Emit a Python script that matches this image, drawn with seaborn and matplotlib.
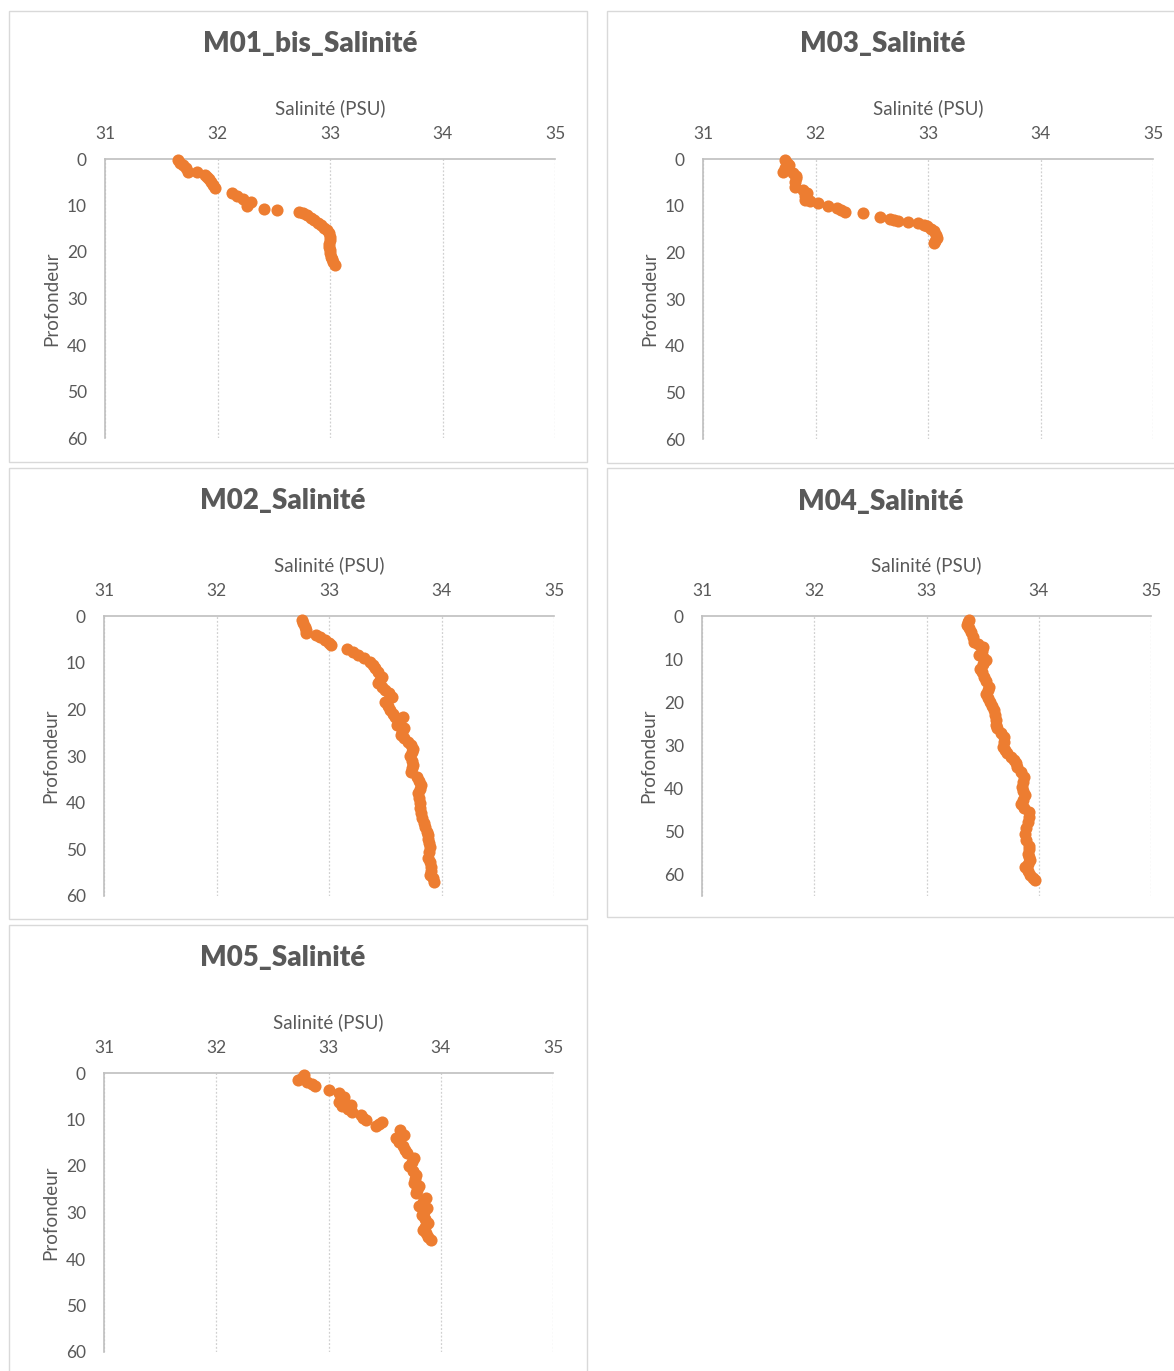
import matplotlib
matplotlib.use("Agg")
import matplotlib.pyplot as plt
from matplotlib.patches import Rectangle
import pandas as pd
import seaborn as sns

# ---- Salinity profiles (depth in m, salinity in PSU) ----
m01_depth = [0.2, 0.8, 1.3, 2.0, 2.7, 2.9, 3.4, 3.8, 4.4, 4.9, 5.6, 6.3, 7.4, 8.0, 8.5,
             9.2, 9.6, 10.1, 10.8, 11.0, 11.3, 11.6, 12.0, 12.6, 13.1, 13.7, 14.2, 14.8,
             15.3, 16.0, 16.7, 17.5, 18.2, 18.9, 19.6, 20.3, 21.0, 21.4, 22.1, 22.8]
m01_sal = [31.65, 31.67, 31.69, 31.72, 31.74, 31.82, 31.89, 31.91, 31.92, 31.94, 31.96,
           31.98, 32.13, 32.17, 32.23, 32.30, 32.27, 32.26, 32.41, 32.53, 32.72, 32.76,
           32.80, 32.83, 32.86, 32.89, 32.92, 32.95, 32.97, 32.99, 33.00, 33.00, 32.99,
           32.99, 33.00, 33.00, 33.01, 33.02, 33.03, 33.04]

m03_depth = [0.2, 0.8, 1.3, 2.0, 2.7, 3.1, 3.6, 4.1, 5.0, 5.9, 6.6, 7.3, 8.0, 8.7, 9.1,
             9.5, 10.1, 10.6, 11.0, 11.3, 11.6, 12.4, 12.8, 13.0, 13.2, 13.4, 13.8, 14.1,
             14.4, 15.0, 15.5, 16.2, 17.0, 17.5, 18.0]
m03_sal = [31.73, 31.75, 31.76, 31.73, 31.71, 31.80, 31.83, 31.83, 31.82, 31.82, 31.89,
           31.92, 31.91, 31.91, 31.95, 32.02, 32.11, 32.19, 32.23, 32.26, 32.42, 32.57,
           32.66, 32.70, 32.73, 32.82, 32.91, 32.96, 32.99, 33.03, 33.05, 33.07, 33.08,
           33.06, 33.05]

m02_depth = [0.9, 1.6, 2.3, 3.0, 3.7, 4.1, 4.6, 5.1, 5.7, 6.2, 7.1, 7.8, 8.4, 9.1, 9.8,
             10.5, 11.2, 12.1, 13.0, 13.7, 14.4, 15.2, 15.9, 16.6, 17.3, 18.4, 19.2, 20.1,
             20.9, 21.6, 21.6, 22.5, 23.4, 24.1, 24.8, 25.5, 26.2, 26.9, 27.7, 28.4, 29.2,
             30.1, 31.0, 31.9, 32.6, 33.4, 34.4, 35.3, 36.2, 37.1, 38.0, 39.0, 40.1, 41.2,
             42.3, 43.3, 44.4, 45.3, 46.2, 47.0, 47.8, 48.6, 49.4, 50.6, 51.9, 52.8, 53.7,
             54.6, 55.5, 56.2, 56.9]
m02_sal = [32.76, 32.77, 32.79, 32.80, 32.80, 32.88, 32.92, 32.96, 33.00, 33.02, 33.16,
           33.21, 33.26, 33.31, 33.36, 33.39, 33.41, 33.44, 33.47, 33.45, 33.44, 33.47,
           33.50, 33.53, 33.56, 33.50, 33.52, 33.54, 33.57, 33.59, 33.66, 33.62, 33.60,
           33.67, 33.65, 33.64, 33.67, 33.70, 33.73, 33.75, 33.74, 33.72, 33.74, 33.75,
           33.74, 33.73, 33.78, 33.80, 33.82, 33.81, 33.79, 33.80, 33.81, 33.81, 33.82,
           33.83, 33.84, 33.85, 33.87, 33.88, 33.88, 33.89, 33.90, 33.89, 33.88, 33.90,
           33.91, 33.91, 33.90, 33.92, 33.93]

m04_depth = [0.9, 1.5, 2.1, 2.9, 3.6, 4.8, 6.0, 6.5, 7.1, 8.1, 9.1, 9.6, 10.2, 11.2, 12.2,
             13.1, 14.1, 15.2, 16.4, 17.2, 18.0, 19.0, 19.9, 20.9, 21.9, 23.0, 24.2, 25.2,
             26.1, 27.1, 28.1, 29.2, 30.4, 31.2, 31.9, 32.7, 33.5, 34.2, 35.0, 36.2, 37.4,
             38.5, 39.7, 40.6, 41.6, 42.6, 43.6, 44.5, 45.5, 46.6, 47.8, 49.1, 50.5, 51.9,
             53.3, 54.2, 55.2, 56.0, 56.7, 57.5, 58.3, 59.3, 60.2, 60.8, 61.4]
m04_sal = [33.38, 33.37, 33.36, 33.38, 33.40, 33.41, 33.42, 33.46, 33.50, 33.49, 33.47,
           33.50, 33.53, 33.50, 33.48, 33.49, 33.51, 33.53, 33.56, 33.55, 33.53, 33.55,
           33.57, 33.58, 33.60, 33.61, 33.62, 33.62, 33.63, 33.66, 33.69, 33.69, 33.68,
           33.70, 33.72, 33.75, 33.78, 33.80, 33.81, 33.84, 33.87, 33.86, 33.85, 33.86,
           33.88, 33.86, 33.84, 33.87, 33.91, 33.91, 33.90, 33.89, 33.88, 33.89, 33.91,
           33.91, 33.90, 33.91, 33.92, 33.90, 33.88, 33.90, 33.92, 33.95, 33.97]

m05_depth = [0.4, 1.0, 1.5, 1.9, 2.4, 2.9, 3.7, 4.4, 5.1, 5.6, 6.2, 6.9, 7.2, 7.8, 8.3,
             9.0, 9.6, 10.1, 10.5, 11.0, 11.5, 12.3, 13.3, 14.0, 14.9, 15.8, 16.5, 17.3,
             18.3, 19.2, 20.1, 21.0, 21.9, 22.8, 23.7, 24.4, 25.2, 25.9, 26.9, 27.8, 28.7,
             29.1, 29.8, 30.5, 31.4, 32.3, 33.1, 33.8, 34.5, 35.2, 35.9]
m05_sal = [32.78, 32.76, 32.73, 32.81, 32.85, 32.88, 33.00, 33.09, 33.14, 33.11, 33.09,
           33.20, 33.12, 33.17, 33.21, 33.29, 33.31, 33.33, 33.48, 33.45, 33.42, 33.64,
           33.67, 33.60, 33.63, 33.66, 33.68, 33.70, 33.76, 33.74, 33.72, 33.75, 33.78,
           33.77, 33.76, 33.81, 33.79, 33.78, 33.87, 33.84, 33.81, 33.88, 33.85, 33.83,
           33.86, 33.89, 33.86, 33.84, 33.87, 33.89, 33.91]

titles = ["M01_bis_Salinité", "M03_Salinité", "M02_Salinité", "M04_Salinité", "M05_Salinité"]
x_label = "Salinité (PSU)"
y_label = "Profondeur"
x_ticks = [31, 32, 33, 34, 35]
y_ticks = [0, 10, 20, 30, 40, 50, 60]
depth_max = [60, 60, 60, 65, 60]

profiles = [(m01_depth, m01_sal), (m03_depth, m03_sal), (m02_depth, m02_sal),
            (m04_depth, m04_sal), (m05_depth, m05_sal)]

# ---- Styling ----
sns.set_theme(style="white")
plt.rcParams["font.family"] = ["Lato", "DejaVu Sans"]

ORANGE = "#ED7D31"
TEXT = "#595959"
GRID = "#D0D0D0"
AXIS = "#BFBFBF"

W, H = 1174, 1371
fig = plt.figure(figsize=(W / 100, H / 100), dpi=100)
fig.patch.set_facecolor("white")


def frac(x0, y0, x1, y1):
    return [x0 / W, 1 - y1 / H, (x1 - x0) / W, (y1 - y0) / H]


# chart frame, plot area, title centre (pixels)
layout = [
    ((9, 11, 587, 462), (105, 159, 555, 438), (310, 44)),
    ((607, 11, 1190, 463), (703, 159, 1153, 439), (883, 44)),
    ((9, 468, 587, 919), (104, 616, 554, 896), (283, 501)),
    ((607, 468, 1190, 917), (702, 616, 1151, 896), (881, 502)),
    ((9, 925, 587, 1390), (104, 1073, 553, 1352), (283, 958)),
]

for (frame, area, tpos), title, (depth, sal), dmax in zip(layout, titles, profiles, depth_max):
    fx0, fy0, fx1, fy1 = frame
    fig.patches.append(Rectangle((fx0 / W, 1 - fy1 / H), (fx1 - fx0) / W, (fy1 - fy0) / H,
                                 transform=fig.transFigure, fill=False,
                                 edgecolor="#D9D9D9", linewidth=1.0, zorder=0))
    fig.text(tpos[0] / W, 1 - tpos[1] / H, title, ha="center", va="center",
             fontsize=20, fontweight="heavy", color=TEXT)

    ax = fig.add_axes(frac(*area))
    df = pd.DataFrame({"Salinité": sal, "Profondeur": depth})
    sns.scatterplot(data=df, x="Salinité", y="Profondeur", ax=ax, color=ORANGE,
                    s=76, linewidth=0, alpha=1, zorder=3, clip_on=False)

    ax.set_xlim(31, 35)
    ax.set_ylim(dmax, 0)
    ax.set_xticks(x_ticks)
    ax.set_yticks(y_ticks)
    ax.xaxis.tick_top()
    ax.xaxis.set_label_position("top")
    ax.tick_params(axis="both", length=0, labelsize=12.5, labelcolor=TEXT)
    ax.tick_params(axis="x", pad=12)
    ax.tick_params(axis="y", pad=13)
    ax.set_xlabel(x_label, fontsize=13.5, color=TEXT, labelpad=9)
    ax.set_ylabel(y_label, fontsize=13.5, color=TEXT, labelpad=5)

    ax.grid(axis="x", color=GRID, linestyle=(0, (1.5, 1.5)), linewidth=0.9)
    ax.grid(axis="y", visible=False)
    for side in ("right", "bottom"):
        ax.spines[side].set_visible(False)
    for side in ("left", "top"):
        ax.spines[side].set_color(AXIS)
        ax.spines[side].set_linewidth(1.2)
    ax.set_facecolor("none")

fig.savefig("out.png", dpi=100, facecolor="white")
